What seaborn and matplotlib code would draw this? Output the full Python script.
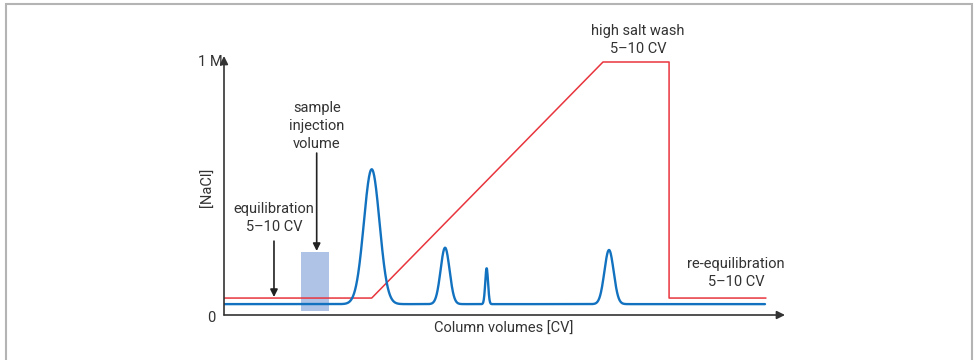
import numpy as np
import pandas as pd
import matplotlib
matplotlib.use("Agg")
import matplotlib.pyplot as plt
from matplotlib.patches import Rectangle
import seaborn as sns

# salt gradient (red), in CV and M NaCl
salt_cv = [0.0, 10.55, 27.07, 31.79, 31.79, 38.71]
salt_conc = [0.067, 0.067, 1.0, 1.0, 0.067, 0.067]

# UV trace (blue): baseline plus four peaks
uv_baseline = 0.043
uv_end_cv = 38.64
peak_cv = [10.55, 15.79, 18.76, 27.5]
peak_height = [0.533, 0.223, 0.142, 0.214]
peak_width = [0.56, 0.32, 0.10, 0.33]

# sample injection block
inject_cv = [5.5, 7.5]
inject_conc = [0.016, 0.249]

text_color = "#333333"
red = "#e8353d"
blue = "#1272c0"


def uv_trace():
    cv = np.linspace(0, uv_end_cv, 2000)
    a = np.full_like(cv, uv_baseline)
    for c, h, w in zip(peak_cv, peak_height, peak_width):
        a += h * np.exp(-0.5 * ((cv - c) / w) ** 2)
    return pd.DataFrame({"cv": cv, "a": a})


def main():
    sns.set_theme(style="white")
    plt.rcParams["font.family"] = ["Roboto", "DejaVu Sans"]

    fig = plt.figure(figsize=(9.74, 3.6), dpi=100)
    ax = fig.add_axes([224 / 974, 45 / 360, 561 / 974, 259 / 360])

    ax.add_patch(Rectangle((inject_cv[0], inject_conc[0]),
                           inject_cv[1] - inject_cv[0],
                           inject_conc[1] - inject_conc[0],
                           facecolor="#aec3e6", edgecolor="none", zorder=1))

    salt = pd.DataFrame({"cv": salt_cv, "conc": salt_conc})
    sns.lineplot(data=salt, x="cv", y="conc", sort=False, estimator=None,
                 color=red, lw=1.1, ax=ax, zorder=2)
    sns.lineplot(data=uv_trace(), x="cv", y="a", estimator=None,
                 color=blue, lw=1.7, ax=ax, zorder=3)

    ax.set_xlim(0, 40.07)
    ax.set_ylim(0, 1.0237)
    for s in ax.spines.values():
        s.set_visible(False)
    ax.set_xticks([])
    ax.set_yticks([])
    ax.set_xlabel("")
    ax.set_ylabel("")
    ax.patch.set_alpha(0)

    # axis arrows
    arrow = dict(arrowstyle="-|>", color=text_color, lw=1.2,
                 mutation_scale=12, shrinkA=0, shrinkB=0)
    ax.annotate("", xy=(1, 0), xytext=(0, 0), xycoords="axes fraction",
                arrowprops=arrow, annotation_clip=False)
    ax.annotate("", xy=(0, 1), xytext=(0, 0), xycoords="axes fraction",
                arrowprops=arrow, annotation_clip=False)

    fs = 10.5
    ax.annotate("1 M", xy=(0, 1.0), xycoords=("axes fraction", "data"),
                xytext=(-1, 0), textcoords="offset points", ha="right",
                va="center", fontsize=fs, color=text_color)
    ax.annotate("0", xy=(0, 0), xycoords="axes fraction",
                xytext=(-6, -2), textcoords="offset points", ha="right",
                va="center", fontsize=fs, color=text_color)
    fig.text(208 / 974, 1 - 187 / 360, "[NaCl]", rotation=90, ha="center",
             va="center", fontsize=fs, color=text_color)
    fig.text(504 / 974, 1 - 329 / 360, "Column volumes [CV]", ha="center",
             va="center", fontsize=fs, color=text_color)

    notes = [
        ("equilibration\n5–10 CV", 3.57, 0.383),
        ("sample\ninjection\nvolume", 6.64, 0.747),
        ("high salt wash\n5–10 CV", 29.57, 1.087),
        ("re-equilibration\n5–10 CV", 36.57, 0.166),
    ]
    for label, x, y in notes:
        ax.text(x, y, label, ha="center", va="center", fontsize=fs,
                color=text_color, linespacing=1.4, clip_on=False)

    pointer = dict(arrowstyle="-|>", color="#222222", lw=1.2,
                   mutation_scale=11, shrinkA=0, shrinkB=0)
    ax.annotate("", xy=(3.57, 0.071), xytext=(3.57, 0.292),
                arrowprops=pointer)
    ax.annotate("", xy=(6.62, 0.253), xytext=(6.62, 0.640),
                arrowprops=pointer)

    # frame around the picture, open at the bottom
    fig.patches.append(Rectangle((5.5 / 974, -0.1), 966 / 974, 1.1 - 4.5 / 360,
                                 transform=fig.transFigure, fill=False,
                                 edgecolor="#b4b4b4", lw=1.5))

    fig.savefig("out.png", dpi=100)
    plt.close(fig)


if __name__ == "__main__":
    main()
